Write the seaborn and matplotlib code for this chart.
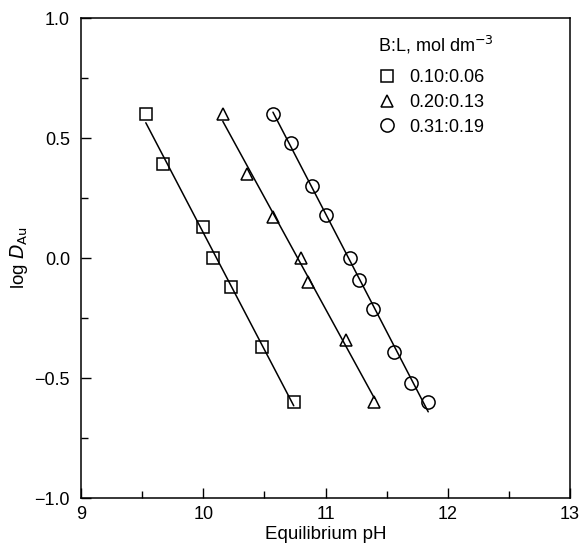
import numpy as np
import pandas as pd
import seaborn as sns
import matplotlib.pyplot as plt
from matplotlib.lines import Line2D
from matplotlib.ticker import MultipleLocator

# B:L ratio series
ratios = ["0.10:0.06", "0.20:0.13", "0.31:0.19"]
markers = ["s", "^", "o"]

ph_sq = [9.53, 9.67, 10.0, 10.08, 10.23, 10.48, 10.74]
logd_sq = [0.60, 0.39, 0.13, 0.0, -0.12, -0.37, -0.60]

ph_tri = [10.16, 10.36, 10.57, 10.80, 10.86, 11.17, 11.40]
logd_tri = [0.60, 0.35, 0.17, 0.0, -0.10, -0.34, -0.60]

ph_cir = [10.57, 10.72, 10.89, 11.0, 11.20, 11.27, 11.39, 11.56, 11.70, 11.84]
logd_cir = [0.60, 0.48, 0.30, 0.18, 0.0, -0.09, -0.21, -0.39, -0.52, -0.60]

df = pd.concat([
    pd.DataFrame({"pH": ph_sq, "logD": logd_sq, "ratio": ratios[0]}),
    pd.DataFrame({"pH": ph_tri, "logD": logd_tri, "ratio": ratios[1]}),
    pd.DataFrame({"pH": ph_cir, "logD": logd_cir, "ratio": ratios[2]}),
])

sns.set_style("ticks")
plt.rcParams["font.family"] = ["Liberation Sans", "DejaVu Sans"]
plt.rcParams["text.color"] = "black"
plt.rcParams["axes.labelcolor"] = "black"
plt.rcParams["xtick.color"] = "black"
plt.rcParams["ytick.color"] = "black"

fig = plt.figure(figsize=(5.8, 5.48), dpi=100)
ax = fig.add_axes([0.1397, 0.091, 0.8431, 0.876])

msize = {"s": 9, "^": 8.5, "o": 9.5}
for r, m in zip(ratios, markers):
    sub = df[df.ratio == r]
    sns.regplot(data=sub, x="pH", y="logD", ax=ax, scatter=False, ci=None,
                line_kws={"color": "black", "lw": 1.1})
    ax.plot(sub.pH, sub.logD, ls="none", marker=m, ms=msize[m],
            mfc="none", mec="black", mew=1.1, zorder=3)

ax.set_xlim(9, 13)
ax.set_ylim(-1.0, 1.0)
ax.xaxis.set_minor_locator(MultipleLocator(0.5))
ax.yaxis.set_minor_locator(MultipleLocator(0.25))
ax.set_xticks([9, 10, 11, 12, 13])
ax.set_xticklabels(["9", "10", "11", "12", "13"])
ax.set_yticks([-1.0, -0.5, 0.0, 0.5, 1.0])
ax.set_yticklabels(["\u22121.0", "\u22120.5", "0.0", "0.5", "1.0"])
ax.tick_params(which="both", direction="in", top=False, right=False,
               labelsize=13, color="black", labelcolor="black", width=1)
ax.tick_params(which="major", length=7)
ax.tick_params(which="minor", length=5)
ax.tick_params(axis="y", which="major", pad=8)
ax.tick_params(axis="x", which="major", pad=6)
for s in ax.spines.values():
    s.set_linewidth(1.1)
    s.set_color("black")

ax.set_xlabel("Equilibrium pH", fontsize=13.5, labelpad=2, color="black")
ax.set_ylabel("log $\\mathit{D}_{\\mathrm{Au}}$", fontsize=13.5, labelpad=3,
              color="black")

# legend: title as separate text so the gap matches the original
ax.text(0.607, 0.944, "B:L, mol dm$^{-3}$", transform=ax.transAxes,
        ha="left", va="center", fontsize=13, color="black")
handles = [Line2D([], [], ls="none", marker=m, ms=msize[m],
                  mfc="none", mec="black", mew=1.1) for m in markers]
ax.legend(handles, ratios, loc="upper left",
          bbox_to_anchor=(0.607, 0.893), frameon=False, fontsize=13,
          handlelength=1.0, handletextpad=0.75, labelcolor="black",
          labelspacing=0.42, borderpad=0, borderaxespad=0)

fig.savefig("out.png", dpi=100)
